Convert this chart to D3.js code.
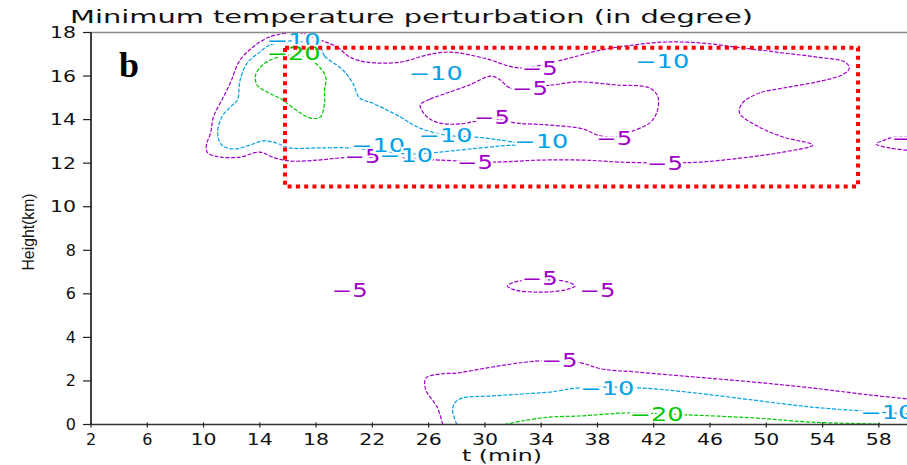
<!DOCTYPE html>
<html>
<head>
<meta charset="utf-8">
<script src="https://cdn.jsdelivr.net/npm/d3@7"></script>
<style>
  html, body { margin: 0; padding: 0; background: #fff; }
  svg { display: block; }
</style>
</head>
<body>
<svg id="chart" width="907" height="465"></svg>
<script>
// ---------- DATA (t in minutes, height in km) ----------
const xTicks = [2, 6, 10, 14, 18, 22, 26, 30, 34, 38, 42, 46, 50, 54, 58];
const yTicks = [0, 2, 4, 6, 8, 10, 12, 14, 16, 18];
const levels = [-5, -10, -20];

// -5 contour, large upper region (closed)
const m5Upper = [[18.3,17.65],[19.5,17.33],[20.4,16.87],[21.6,16.64],[24.0,16.64],[25.9,16.97],[27.5,17.10],[29.9,16.83],[32.5,16.37],[35.5,16.74],[38.2,17.19],[40.5,17.42],[42.7,17.56],[45.3,17.52],[48.3,17.29],[51.2,17.06],[53.6,16.87],[55.6,16.64],[55.9,16.37],[55.5,16.09],[53.6,15.73],[51.2,15.45],[49.5,15.22],[48.3,14.76],[48.1,14.30],[49.5,13.66],[51.2,13.20],[53.3,12.83],[51.2,12.51],[48.8,12.28],[45.3,12.05],[42.8,12.01],[39.6,12.05],[37.0,12.14],[33.9,12.14],[30.6,12.05],[26.8,12.14],[24.0,12.24],[21.8,12.28],[19.7,12.24],[18.1,12.14],[16.1,12.10],[14.9,12.28],[14.0,12.51],[12.6,12.28],[11.2,12.28],[10.3,12.47],[10.2,12.83],[10.5,13.38],[10.7,14.12],[11.3,14.90],[11.9,15.68],[12.6,16.74],[14.0,17.56],[15.1,17.88],[16.9,17.98]];
// -5 contour, inner hole (closed)
const m5Inner = [[25.4,14.67],[26.1,14.94],[27.3,15.22],[28.9,15.59],[30.4,16.00],[31.1,15.82],[31.8,15.45],[34.8,15.59],[36.5,15.73],[39.4,15.59],[41.7,15.45],[42.3,15.04],[42.2,14.30],[41.7,13.84],[40.3,13.43],[39.2,13.20],[38.0,13.29],[37.0,13.57],[34.6,13.75],[32.3,13.84],[30.5,14.03],[28.2,13.80],[26.8,13.84],[25.9,14.12]];
// -5 contour entering at right edge (open)
const m5Right = [[60.0,12.60],[58.8,12.69],[57.8,12.88],[58.4,13.06],[59.1,13.20],[60.2,13.20]];
// -5 small cell near 6 km (closed)
const m5Mid = [[31.6,6.36],[32.1,6.54],[33.2,6.63],[35.0,6.63],[35.9,6.54],[36.4,6.36],[35.7,6.18],[33.9,6.08],[32.1,6.18]];
// -5 contour near the ground (open)
const m5Low = [[27.0,0.0],[26.6,0.80],[25.8,1.58],[25.8,2.13],[26.8,2.32],[28.0,2.36],[29.7,2.55],[31.4,2.73],[33.0,2.87],[35.3,2.96],[36.9,2.82],[38.3,2.55],[40.8,2.41],[44.9,2.18],[49.1,1.95],[53.2,1.68],[57.3,1.36],[60.1,1.17]];
// -10 contour, upper region (closed)
const m10Upper = [[18.3,17.29],[18.6,16.92],[19.9,16.28],[20.6,15.68],[21.1,14.99],[22.0,14.76],[24.0,14.12],[25.2,13.66],[27.2,13.29],[29.3,13.20],[31.1,13.06],[32.5,12.88],[31.1,12.79],[28.9,12.65],[26.8,12.51],[24.7,12.42],[22.5,12.56],[20.4,12.70],[18.1,12.70],[16.1,12.70],[15.2,12.92],[14.2,13.02],[13.3,12.83],[12.1,12.65],[11.3,12.83],[11.0,13.38],[11.3,14.12],[11.9,14.58],[12.4,14.90],[12.6,15.82],[13.1,16.60],[14.0,17.10],[14.7,17.42],[16.4,17.61]];
// -10 contour near the ground (open)
const m10Low = [[28.0,0.0],[27.7,0.67],[27.9,1.03],[28.4,1.22],[30.5,1.31],[32.6,1.40],[34.6,1.49],[36.7,1.68],[41.0,1.68],[44.9,1.45],[49.1,1.12],[53.2,0.80],[56.9,0.62],[60.1,0.48]];
// -20 contour, upper region (closed)
const m20Upper = [[16.4,16.97],[17.6,16.74],[18.3,16.37],[18.7,15.91],[18.6,15.36],[18.6,14.81],[18.3,14.12],[17.6,14.07],[16.9,14.30],[16.1,14.67],[15.4,14.99],[14.5,15.27],[13.8,15.59],[13.7,16.05],[14.2,16.51],[15.1,16.83]];
// -20 contour near the ground (open)
const m20Low = [[31.4,0.0],[32.6,0.16],[34.6,0.34],[36.7,0.39],[38.7,0.48],[40.2,0.53],[44.5,0.44],[49.1,0.30],[53.2,0.11],[58.1,0.02]];

// contour labels: [t, height, level]
const contourLabels = [
  [33.9,16.37,-5],[33.2,15.45,-5],[30.5,14.12,-5],[39.2,13.15,-5],[21.3,12.33,-5],
  [29.3,12.05,-5],[42.8,12.01,-5],[60.2,13.15,-5],[20.4,6.18,-5],[33.9,6.73,-5],
  [38.0,6.18,-5],[35.3,2.96,-5],
  [16.4,17.65,-10],[26.5,16.14,-10],[42.6,16.69,-10],[27.2,13.29,-10],[34.0,13.01,-10],
  [22.4,12.83,-10],[24.4,12.37,-10],[38.7,1.68,-10],[58.6,0.57,-10],
  [16.4,17.06,-20],[42.2,0.48,-20]
];

// highlighted region (t from, t to, height from, height to)
const boxT = [15.79, 56.52];
const boxH = [10.93, 17.30];

// ---------- DRAWING ----------
const svg = d3.select('#chart');
const W = 907, H = 465;
const x = d3.scaleLinear().domain([2, 60]).range([91, 907]);
const y = d3.scaleLinear().domain([0, 18]).range([424.5, 32.5]);

const colorOf = d3.scaleOrdinal().domain(levels).range(['#a000c8', '#00a0e6', '#00c800']);

svg.append('defs').append('clipPath').attr('id', 'plotclip')
  .append('rect').attr('x', x(2)).attr('y', y(18)).attr('width', x(60) - x(2)).attr('height', y(0) - y(18));

const contours = [
  {level: -5, pts: m5Upper, closed: true},
  {level: -5, pts: m5Inner, closed: true},
  {level: -5, pts: m5Right, closed: false},
  {level: -5, pts: m5Mid, closed: true},
  {level: -5, pts: m5Low, closed: false},
  {level: -10, pts: m10Upper, closed: true},
  {level: -10, pts: m10Low, closed: false},
  {level: -20, pts: m20Upper, closed: true},
  {level: -20, pts: m20Low, closed: false}
];

const gLines = svg.append('g').attr('clip-path', 'url(#plotclip)');
contours.forEach(c => {
  const line = d3.line().x(d => x(d[0])).y(d => y(d[1]))
    .curve(c.closed ? d3.curveCatmullRomClosed.alpha(0.5) : d3.curveCatmullRom.alpha(0.5));
  gLines.append('path')
    .attr('d', line(c.pts))
    .attr('fill', 'none')
    .attr('stroke', colorOf(c.level))
    .attr('stroke-width', 1.2)
    .attr('stroke-dasharray', '4,1.6');
});

// labels
const gLab = svg.append('g');
contourLabels.forEach(l => {
  const txt = '\u2212' + Math.abs(l[2]);
  gLab.append('text')
    .attr('x', x(l[0])).attr('y', y(l[1]))
    .attr('text-anchor', 'middle')
    .attr('dominant-baseline', 'central')
    .attr('font-family', 'DejaVu Sans, sans-serif')
    .attr('font-size', 19)
    .attr('textLength', txt.length === 2 ? 36 : 54)
    .attr('lengthAdjust', 'spacingAndGlyphs')
    .attr('fill', colorOf(l[2]))
    .attr('stroke', '#fff').attr('stroke-width', 4).attr('paint-order', 'stroke')
    .text(txt);
});

// axes frame
svg.append('line').attr('x1', x(2)).attr('x2', W).attr('y1', y(18)).attr('y2', y(18))
  .attr('stroke', '#888').attr('stroke-width', 1.6);
svg.append('line').attr('x1', x(2)).attr('x2', x(2)).attr('y1', y(18)).attr('y2', y(0))
  .attr('stroke', '#111').attr('stroke-width', 1.6);
svg.append('line').attr('x1', x(2)).attr('x2', W).attr('y1', y(0)).attr('y2', y(0))
  .attr('stroke', '#333').attr('stroke-width', 1.6);

const tickFont = 'DejaVu Sans, sans-serif';
// y ticks
const gy = svg.append('g');
yTicks.forEach(v => {
  gy.append('line').attr('x1', x(2) - 8).attr('x2', x(2)).attr('y1', y(v)).attr('y2', y(v))
    .attr('stroke', '#222').attr('stroke-width', 1.2);
  const t = gy.append('text').attr('x', 76).attr('y', y(v)).attr('text-anchor', 'end')
    .attr('dominant-baseline', 'central').attr('font-family', tickFont).attr('font-size', 16)
    .attr('fill', '#111').text(v);
  if (String(v).length === 2) t.attr('textLength', 26).attr('lengthAdjust', 'spacingAndGlyphs');
});
// x ticks
const gx = svg.append('g');
xTicks.forEach(v => {
  gx.append('line').attr('x1', x(v)).attr('x2', x(v)).attr('y1', y(0) - 2).attr('y2', y(0) + 3)
    .attr('stroke', '#222').attr('stroke-width', 1.2);
  const t = gx.append('text').attr('x', x(v)).attr('y', 445).attr('text-anchor', 'middle')
    .attr('font-family', tickFont).attr('font-size', 16).attr('fill', '#111').text(v);
  if (String(v).length === 2) t.attr('textLength', 26).attr('lengthAdjust', 'spacingAndGlyphs');
});

// axis titles
svg.append('text').attr('x', 502).attr('y', 461).attr('text-anchor', 'middle')
  .attr('font-family', tickFont).attr('font-size', 15).attr('fill', '#111')
  .attr('textLength', 80).attr('lengthAdjust', 'spacingAndGlyphs').text('t (min)');
svg.append('text').attr('transform', 'translate(34,232) rotate(-90)').attr('text-anchor', 'middle')
  .attr('font-family', 'Liberation Sans Narrow, Liberation Sans, sans-serif').attr('font-size', 16)
  .attr('fill', '#111').attr('textLength', 77).attr('lengthAdjust', 'spacingAndGlyphs').text('Height(km)');

// title
svg.append('text').attr('x', 70).attr('y', 23).attr('font-family', tickFont).attr('font-size', 17)
  .attr('fill', '#111').attr('textLength', 683).attr('lengthAdjust', 'spacingAndGlyphs')
  .text('Minimum temperature perturbation (in degree)');

// highlight box
svg.append('rect')
  .attr('x', x(boxT[0])).attr('y', y(boxH[1]))
  .attr('width', x(boxT[1]) - x(boxT[0])).attr('height', y(boxH[0]) - y(boxH[1]))
  .attr('fill', 'none').attr('stroke', '#ff0000').attr('stroke-width', 4)
  .attr('stroke-dasharray', '4,4.3');

// panel letter
svg.append('text').attr('x', 119).attr('y', 77).attr('font-family', 'Liberation Serif, serif')
  .attr('font-weight', 'bold').attr('font-size', 36).attr('fill', '#000').text('b');
</script>
</body>
</html>
